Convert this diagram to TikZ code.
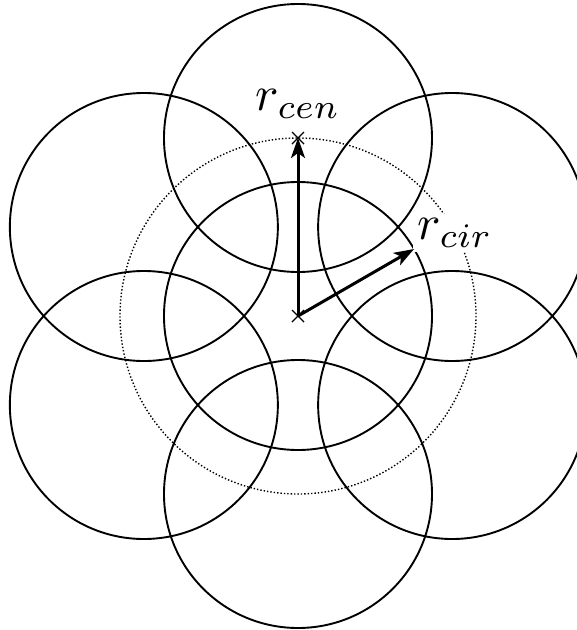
\documentclass[tikz,border=0pt]{standalone}
\usetikzlibrary{arrows.meta,calc}
\begin{document}
\begin{tikzpicture}[x=1pt,y=-1pt,
  ring/.style={draw=black,line width=1.9pt},
  guide/.style={draw=black,line width=1.4pt,dotted},
  vec/.style={draw=black,line width=3pt,-{Stealth[length=20pt,width=14pt,inset=5pt]}},
  lbl/.style={fill=white,inner sep=1pt,scale=4.9},
  xmark/.style={draw=black,line width=1.4pt}]
\useasboundingbox (0,0) rectangle (577,630);
\coordinate (C) at (298,316);
\coordinate (t) at (298,138);
\coordinate (tr) at (452.15,227);
\coordinate (br) at (452.15,405);
\coordinate (b) at (298,494);
\coordinate (bl) at (143.85,405);
\coordinate (tl) at (143.85,227);
\coordinate (E) at (414.05,249);
\draw[guide] (C) circle[radius=178];
\draw[ring] (C) circle[radius=134];
\foreach \n in {t,tr,br,b,bl,tl}{
  \draw[ring] (\n) circle[radius=134];
}
\node[lbl] (lc) at (298,104) {$r_{cen}$};
\node[lbl] (lr) at (455,233) {$r_{cir}$};
\draw[vec] (C) -- (t);
\draw[vec] (C) -- (E);
\foreach \p in {C,t}{
  \draw[xmark] ($(\p)+(-6,-6)$) -- ($(\p)+(6,6)$) ($(\p)+(6,-6)$) -- ($(\p)+(-6,6)$);
}
\end{tikzpicture}
\end{document}
